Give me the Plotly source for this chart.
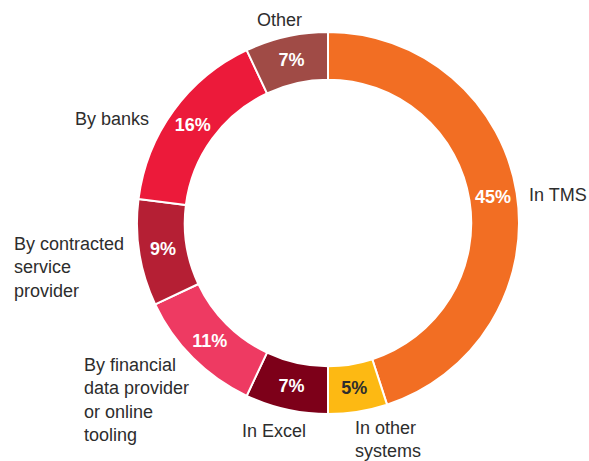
import plotly.graph_objects as go

labels = ["In TMS", "In other systems", "In Excel",
          "By financial data provider or online tooling",
          "By contracted service provider", "By banks", "Other"]
values = [45, 5, 7, 11, 9, 16, 7]
colors = ["#F26E23", "#FDB913", "#7D0019", "#EE3A62", "#B51F34", "#EC1A3A", "#A04B46"]
text_colors = ["white", "#2d2d2d", "white", "white", "white", "white", "white"]

# outside label texts (with line breaks as in the reference)
label_texts = ["In TMS", "In other<br>systems", "In Excel",
               "By financial<br>data provider<br>or online<br>tooling",
               "By contracted<br>service<br>provider", "By banks", "Other"]
# label anchor positions in pixels (x, y), anchor
label_pos = [(527, 195, "left"), (353, 439, "left"), (240, 431, "left"),
             (82, 400, "left"), (12, 267, "left"), (151, 119, "right"), (279, 20, "center")]

W, H = 589, 461
cx, cy, R = 328, 223, 191

fig = go.Figure(go.Pie(
    labels=labels, values=values, sort=False, direction="clockwise", rotation=0,
    hole=0.75,
    marker=dict(colors=colors, line=dict(color="white", width=2)),
    texttemplate="%{value}%", textposition="inside",
    insidetextorientation="horizontal",
    textfont=dict(family="Liberation Sans, Arial, sans-serif", size=18, color=text_colors, weight="bold"),
    domain=dict(x=[(cx - R) / W, (cx + R) / W], y=[1 - (cy + R) / H, 1 - (cy - R) / H]),
    showlegend=False, hoverinfo="label+percent",
))

for t, (px, py, anc) in zip(label_texts, label_pos):
    fig.add_annotation(x=px / W, y=1 - py / H, xref="paper", yref="paper",
                       text=t, showarrow=False, xanchor=anc, yanchor="middle",
                       align="left" if anc == "left" else anc,
                       font=dict(family="Liberation Sans, Arial, sans-serif", size=18, color="#2d2d2d"))

fig.update_layout(width=W, height=H, margin=dict(l=0, r=0, t=0, b=0),
                  paper_bgcolor="white", plot_bgcolor="white")
fig.write_html("out.html", config={"displayModeBar": False},
               post_script="document.body.style.margin='0';document.body.style.overflow='hidden';")
